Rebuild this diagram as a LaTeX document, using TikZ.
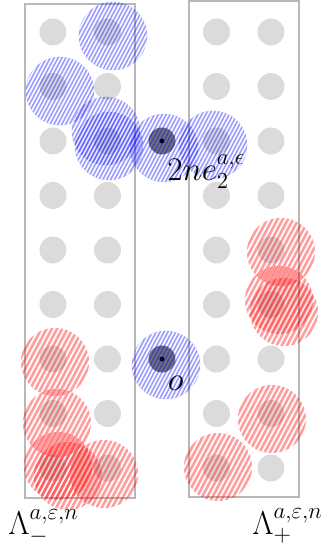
\documentclass[tikz,border=0pt]{standalone}
\usepackage{amsmath}
\usepackage{xcolor}
\usepackage{tikz}
\usetikzlibrary{calc}
\tikzset{
  site/.style={circle,fill=black!14,minimum size=4.95mm,inner sep=0pt},
  hole/.style={circle,fill=black!55,minimum size=4.95mm,inner sep=0pt},
  pin/.style={circle,fill=black,minimum size=.9mm,inner sep=0pt},
  strip/.style={draw=black!28,line width=.6pt},
  ball/.style={circle,minimum size=12.5mm,inner sep=0pt},
  % hatching: colour / spacing / stroke
  hatch/.style n args={3}{path picture={
      \foreach \k in {-12,...,12}
        \draw[#1,draw opacity=.38,line width=#3]
          ($(path picture bounding box.center)+(152:\k*#2)+(62:-0.8cm)$)
          -- ++(62:1.6cm);}},
  bBall/.style={ball,hatch={blue}{1.8pt}{.85pt},draw=blue,draw opacity=.1,line width=.3pt},
  rBall/.style={ball,hatch={red}{2.4pt}{1.35pt}},
  lab/.style={font=\LARGE,inner sep=0pt,anchor=base west},
}
\begin{document}
\begin{tikzpicture}[x=1cm,y=1cm]
\useasboundingbox (-0.972,-1.596) rectangle (5.064,8.587);
% lattice sites
\foreach \c in {0,1,3,4}
  \foreach \r in {0,...,8}
    \node[site] (s\c\r) at (\c,\r) {};
\node[hole] (h1) at (2,6) {};
\node[hole] (h0) at (2,2) {};
\node[pin]  (p1) at (h1) {};
\node[pin]  (p0) at (h0) {};
% strips
\draw[strip] (-0.514,-0.55) rectangle (1.505,8.514);
\draw[strip] (2.495,-0.532) rectangle (4.514,8.569);
% blue balls
\node[bBall] (b1) at (1.101,7.927) {};
\node[bBall] (b2) at (0.128,6.917) {};
\node[bBall] (b3) at (0.972,6.183) {};
\node[bBall] (b4) at (1.028,5.908) {};
\node[bBall] (b5) at (2.037,5.872) {};
\node[bBall] (b6) at (2.936,5.927) {};
\node[bBall] (b7) at (2.073,1.890) {};
% red balls
\node[rBall] (r1)  at (0.037,1.945) {};
\node[rBall] (r2)  at (0.073,0.826) {};
\node[rBall] (r3)  at (0.092,0.037) {};
\node[rBall] (r4)  at (0.275,-0.147) {};
\node[rBall] (r5)  at (0.936,-0.110) {};
\node[rBall] (r6)  at (4.183,3.963) {};
\node[rBall] (r7)  at (4.147,3.083) {};
\node[rBall] (r8)  at (4.239,2.862) {};
\node[rBall] (r9)  at (4.018,0.899) {};
\node[rBall] (r10) at (3.028,0.018) {};
% labels
\node[lab] (l1) at (2.092,5.284) {$2ne_2^{a,\epsilon}$};
\node[lab] (l0) at (2.100,1.430) {$o$};
\node[lab] (lm) at (-0.826,-1.229) {$\Lambda_-^{a,\varepsilon,n}$};
\node[lab] (lp) at (3.651,-1.211) {$\Lambda_+^{a,\varepsilon,n}$};
\end{tikzpicture}
\end{document}
